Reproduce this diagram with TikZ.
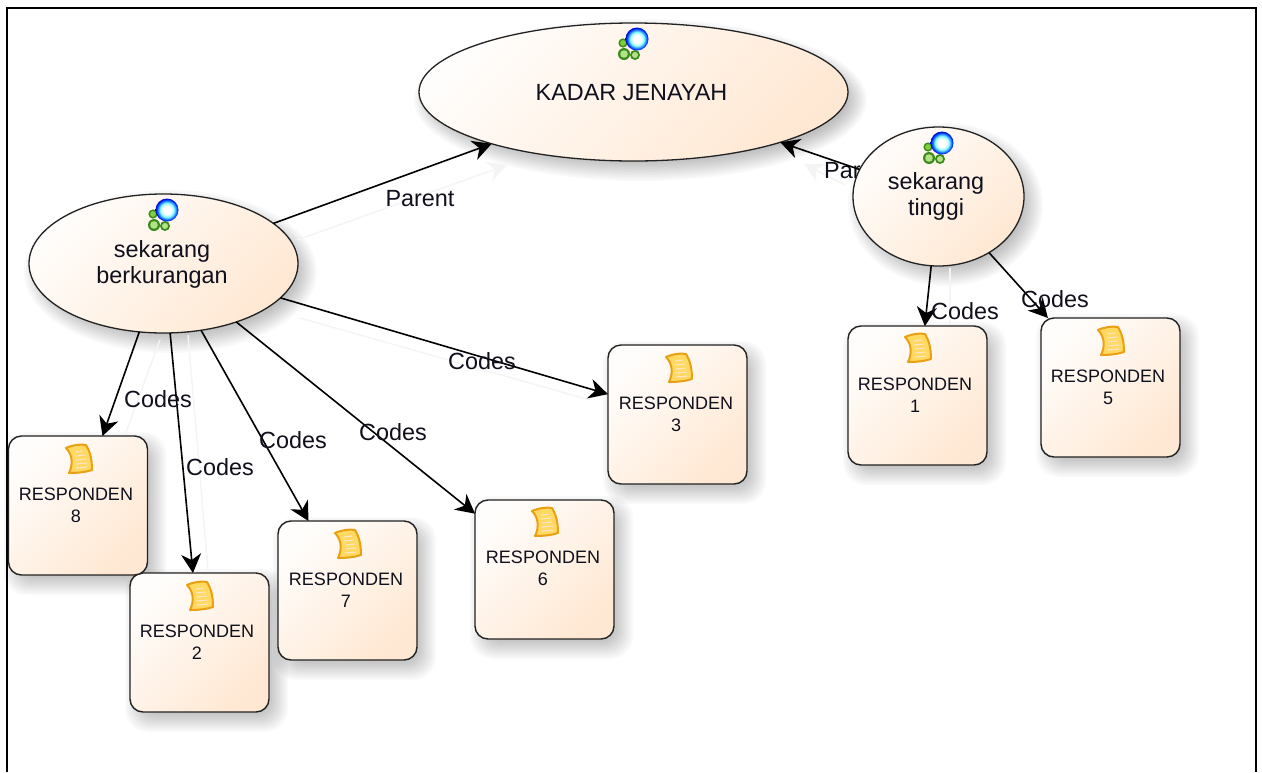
\documentclass[tikz,border=0pt]{standalone}
\usepackage{fontspec}
\setmainfont{Liberation Sans}
\usetikzlibrary{shapes.geometric,arrows.meta,backgrounds}
\definecolor{shadeA}{HTML}{FFFDFB}
\definecolor{shadeB}{HTML}{FFE8D3}
\definecolor{edgeC}{HTML}{222222}
\definecolor{ghostC}{HTML}{F4F4F4}
\definecolor{txtC}{HTML}{10101C}
\definecolor{greenA}{HTML}{7FD038}
\definecolor{greenB}{HTML}{3C8A1C}
\definecolor{scrollA}{HTML}{FFD960}
\definecolor{scrollB}{HTML}{E9A012}
\pgfdeclareradialshading{ballshade}{\pgfpoint{0pt}{0pt}}{
  color(0pt)=(white); color(9pt)=(white); color(15pt)=(cyan!45!white);
  color(22pt)=(blue!70!cyan); color(25pt)=(blue!80!black); color(50pt)=(blue!80!black)}
\tikzset{
  ell/.style={ellipse,draw=edgeC,line width=1.3pt,inner sep=0pt,outer sep=0pt,
    top color=shadeA,bottom color=shadeB,shading angle=45},
  boxn/.style={rectangle,rounded corners=13pt,draw=edgeC,line width=1.4pt,inner sep=0pt,outer sep=0pt,
    minimum width=139pt,minimum height=139pt,top color=shadeA,bottom color=shadeB,shading angle=45},
  big/.style={font=\fontsize{23.4pt}{26pt}\selectfont,text=txtC,align=center,inner sep=0pt},
  small/.style={font=\fontsize{18pt}{22pt}\selectfont,text=txtC,align=center,inner sep=0pt},
  arr/.style={draw=black,line width=1.6pt,-{Stealth[length=19pt,width=20pt,inset=6pt]}},
  ghost/.style={draw=ghostC,line width=1.4pt},
  ghostarr/.style={ghost,-{Stealth[length=19pt,width=20pt,inset=6pt]}},
  pics/ballicon/.style={code={
    \fill[greenB] (-14,4) circle (4.6);
    \fill[greenA] (-14,4) circle (2.9);
    \fill[greenB] (-13,15) circle (6);
    \fill[greenA!60!white] (-13,15) circle (3.8);
    \fill[greenB] (-2,16) circle (5);
    \fill[greenA!60!white] (-2,16) circle (3);
    \shade[shading=ballshade] (0,0) circle (11.5);
  }},
  pics/docicon/.style={code={
    \filldraw[draw=scrollB,fill=scrollA,line width=2pt,line join=round]
      (-12,-11) .. controls (-6,-14) and (4,-15) .. (8,-14)
      .. controls (11,-9) and (14,-2) .. (14,11)
      .. controls (8,13) and (0,14) .. (-9,14)
      .. controls (-5,6) and (-5,-4) .. (-12,-11) -- cycle;
    \draw[white!80!orange,line width=1.1pt]
      (-3,-7) -- (5,-8) (-3,-3) -- (7,-4) (-2,1) -- (8,0) (-2,5) -- (9,4) (-2,9) -- (9,8);
  }}
}
\newcommand{\softE}[4]{%
  \foreach \d in {-8,-6,...,12}{\fill[black,opacity=0.022] (#1+7,#2+8) ellipse ({#3/2+\d} and {#4/2+\d});}}
\newcommand{\softB}[2]{%
  \foreach \d in {-8,-6,...,12}{\fill[black,opacity=0.022,rounded corners={13pt+\d pt*0.5+4pt}]
    (#1-69.5+7-\d,#2-69.5+8-\d) rectangle (#1+69.5+7+\d,#2+69.5+8+\d);}}
\begin{document}
\begin{tikzpicture}[x=1pt,y=-1pt]
\useasboundingbox (0,0) rectangle (1262,772);
\fill[white] (0,0) rectangle (1262,772);
% soft shadows
\softE{633.5}{92}{429}{138}
\softE{163.5}{263.5}{269}{139}
\softE{938.5}{196.5}{171}{139}
\softB{78}{505.5}\softB{199.5}{642.5}\softB{347.5}{590.5}\softB{544.5}{569.5}
\softB{677.5}{414.5}\softB{917.5}{395.5}\softB{1110.5}{387.5}
% frame
\coordinate (fa) at (7,772); \coordinate (fb) at (7,8); \coordinate (fc) at (1256,8); \coordinate (fd) at (1256,772);
\draw[black,line width=2pt] (fa) -- (fb) -- (fc) -- (fd);
% faint ghost connectors
\coordinate (g1a) at (297,240); \coordinate (g1b) at (507,165);
\coordinate (g2a) at (300,318); \coordinate (g2b) at (590,400);
\coordinate (g3a) at (160,340); \coordinate (g3b) at (125,435);
\coordinate (g4a) at (188,335); \coordinate (g4b) at (208,570);
\coordinate (g5a) at (950,268); \coordinate (g5b) at (950,325);
\coordinate (g6a) at (845,185); \coordinate (g6b) at (804,164);
\draw[ghostarr] (g1a) -- (g1b);
\draw[ghost] (g2a) -- (g2b);
\draw[ghost] (g3a) -- (g3b);
\draw[ghost] (g4a) -- (g4b);
\draw[ghost] (g5a) -- (g5b);
\draw[ghostarr] (g6a) -- (g6b);
% occluded label
\node[big,anchor=west] (lpar2) at (824,171) {Parent};
% nodes
\node[ell,minimum width=429pt,minimum height=138pt] (kadar) at (633.5,92) {};
\node[ell,minimum width=269pt,minimum height=139pt] (berk) at (163.5,263.5) {};
\node[ell,minimum width=171pt,minimum height=139pt] (ting) at (938.5,196.5) {};
\node[boxn] (r2) at (199.5,642.5) {};
\node[boxn] (r8) at (78,505.5) {};
\node[boxn] (r7) at (347.5,590.5) {};
\node[boxn] (r6) at (544.5,569.5) {};
\node[boxn] (r3) at (677.5,414.5) {};
\node[boxn] (r1) at (917.5,395.5) {};
\node[boxn] (r5) at (1110.5,387.5) {};
% connectors
\draw[arr] (berk) -- (kadar);
\draw[arr] (ting) -- (kadar);
\draw[arr] (berk) -- (r8);
\draw[arr] (berk) -- (r2);
\draw[arr] (berk) -- (r7);
\draw[arr] (berk) -- (r6);
\draw[arr] (berk) -- (r3);
\draw[arr] (ting) -- (r1);
\draw[arr] (ting) -- (r5);
% icons
\pic at (637,39) {ballicon};
\pic at (167,210) {ballicon};
\pic at (942,143) {ballicon};
\pic at (78,459) {docicon};
\pic at (199,596) {docicon};
\pic at (347,544) {docicon};
\pic at (544,522) {docicon};
\pic at (678,368) {docicon};
\pic at (917,348) {docicon};
\pic at (1110,341) {docicon};
% node texts
\node[big] (tk) at (631.5,93) {KADAR JENAYAH};
\node[big] (tb) at (162,264) {sekarang\\berkurangan};
\node[big] (tt) at (936,196) {sekarang\\tinggi};
\node[small] (t8) at (76,505) {RESPONDEN\\8};
\node[small] (t2) at (197,642) {RESPONDEN\\2};
\node[small] (t7) at (346,590) {RESPONDEN\\7};
\node[small] (t6) at (543,568) {RESPONDEN\\6};
\node[small] (t3) at (676,414) {RESPONDEN\\3};
\node[small] (t1) at (915,395) {RESPONDEN\\1};
\node[small] (t5) at (1108,387) {RESPONDEN\\5};
% connector labels
\node[big] (lp) at (420,199) {Parent};
\node[big] (c8) at (158,399.5) {Codes};
\node[big] (c2) at (220,467.5) {Codes};
\node[big] (c7) at (293,440.5) {Codes};
\node[big] (c6) at (393,432.5) {Codes};
\node[big] (c3) at (482,361.5) {Codes};
\node[big] (c1) at (965,311.5) {Codes};
\node[big] (c5) at (1055,299.5) {Codes};
\end{tikzpicture}
\end{document}
